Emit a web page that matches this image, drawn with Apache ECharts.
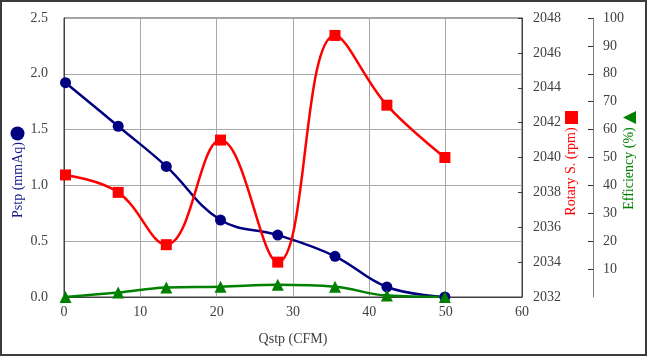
<!DOCTYPE html>
<html><head><meta charset="utf-8">
<script src="https://cdn.jsdelivr.net/npm/echarts@6/dist/echarts.min.js"></script>
<style>
html,body{margin:0;padding:0;background:#fff;}
#wrap{position:relative;width:647px;height:356px;}
#chart{position:absolute;left:0;top:0;width:647px;height:356px;}
#frame{position:absolute;left:0;top:0;width:647px;height:356px;box-sizing:border-box;border:2px solid #3c3c3c;pointer-events:none;}
</style></head>
<body>
<div id="wrap"><div id="chart"></div><div id="frame"></div></div>
<script>
// Data
var qstp = [0.2, 7.1, 13.4, 20.5, 28.0, 35.5, 42.3, 49.9];
var pstp = [1.92, 1.53, 1.17, 0.69, 0.555, 0.365, 0.09, 0.0];
var rotary = [2039, 2038, 2035, 2041, 2034, 2047, 2043, 2040];
var efficiency = [0, 1.6, 3.4, 3.7, 4.4, 3.7, 0.5, 0];

var xTitle = 'Qstp (CFM)';
var pstpTitle = 'Pstp (mmAq)';
var rotaryTitle = 'Rotary S. (rpm)';
var effTitle = 'Efficiency (%)';

var FONT = '"Liberation Serif", "Times New Roman", serif';
var LBL = '#404040';

function pairs(ys){ return qstp.map(function(x,i){ return [x, ys[i]]; }); }

var chart = echarts.init(document.getElementById('chart'), null, {renderer:'canvas'});
chart.setOption({
  animation: false,
  grid: {left: 64, right: 125, top: 18, bottom: 59, show: true, borderColor: '#404040', borderWidth: 1},
  xAxis: {
    type: 'value', min: 0, max: 60, interval: 10,
    name: xTitle, nameLocation: 'middle', nameGap: 35,
    nameTextStyle: {fontFamily: FONT, fontSize: 14, color: LBL},
    axisLine: {show: true, lineStyle: {color: '#404040', width: 1}},
    axisTick: {show: false},
    axisLabel: {fontFamily: FONT, fontSize: 14, color: LBL, margin: 8},
    splitLine: {show: true, lineStyle: {color: '#a8a8a8', width: 1}}
  },
  yAxis: [
    {
      type: 'value', min: 0, max: 2.5, interval: 0.5, position: 'left',
      axisLine: {show: true, lineStyle: {color: '#404040', width: 1}},
      axisTick: {show: false},
      axisLabel: {fontFamily: FONT, fontSize: 14, color: LBL, margin: 16,
        formatter: function(v){ return v.toFixed(1); }},
      splitLine: {show: true, lineStyle: {color: '#a8a8a8', width: 1}}
    },
    {
      type: 'value', min: 2032, max: 2048, interval: 2, position: 'right',
      axisLine: {show: true, lineStyle: {color: '#404040', width: 1}},
      axisTick: {show: true, inside: true, length: 4, lineStyle: {color: '#404040'}},
      axisLabel: {fontFamily: FONT, fontSize: 14, color: LBL, margin: 11,
        formatter: function(v){ return String(v); }},
      splitLine: {show: false}
    },
    {
      type: 'value', min: 0, max: 100, interval: 10, position: 'right', offset: 71,
      axisLine: {show: true, lineStyle: {color: '#808080', width: 1}},
      axisTick: {show: true, inside: true, length: 5, lineStyle: {color: '#303030'}},
      axisLabel: {fontFamily: FONT, fontSize: 14, color: LBL, margin: 10, showMinLabel: false},
      splitLine: {show: false}
    }
  ],
  series: [
    {
      name: pstpTitle, type: 'line', yAxisIndex: 0, data: pairs(pstp), smooth: 0.4,
      symbol: 'circle', symbolSize: 11,
      lineStyle: {color: '#000080', width: 2.5}, itemStyle: {color: '#000080'}
    },
    {
      name: rotaryTitle, type: 'line', yAxisIndex: 1, data: pairs(rotary), smooth: 0.4,
      symbol: 'rect', symbolSize: 11,
      lineStyle: {color: '#ff0000', width: 2.5}, itemStyle: {color: '#ff0000'}
    },
    {
      name: effTitle, type: 'line', yAxisIndex: 2, data: pairs(efficiency), smooth: 0.4,
      symbol: 'triangle', symbolSize: 12,
      lineStyle: {color: '#008000', width: 2.5}, itemStyle: {color: '#008000'}
    }
  ],
  graphic: [
    {type: 'text', x: 18, y: 180, rotation: Math.PI/2,
     style: {text: pstpTitle, font: '14px ' + FONT, fill: '#1a1a8a', align: 'center', verticalAlign: 'middle'}},
    {type: 'circle', shape: {cx: 17.5, cy: 133.5, r: 7}, style: {fill: '#000080'}},
    {type: 'text', x: 571.5, y: 171.5, rotation: Math.PI/2,
     style: {text: rotaryTitle, font: '14px ' + FONT, fill: '#ff0000', align: 'center', verticalAlign: 'middle'}},
    {type: 'rect', shape: {x: 565, y: 111, width: 13, height: 13}, style: {fill: '#ff0000'}},
    {type: 'text', x: 629, y: 168.5, rotation: Math.PI/2,
     style: {text: effTitle, font: '14px ' + FONT, fill: '#008000', align: 'center', verticalAlign: 'middle'}},
    {type: 'polygon', shape: {points: [[623, 117.5], [636, 111], [636, 124]]}, style: {fill: '#008000'}}
  ]
});
</script>
</body></html>
